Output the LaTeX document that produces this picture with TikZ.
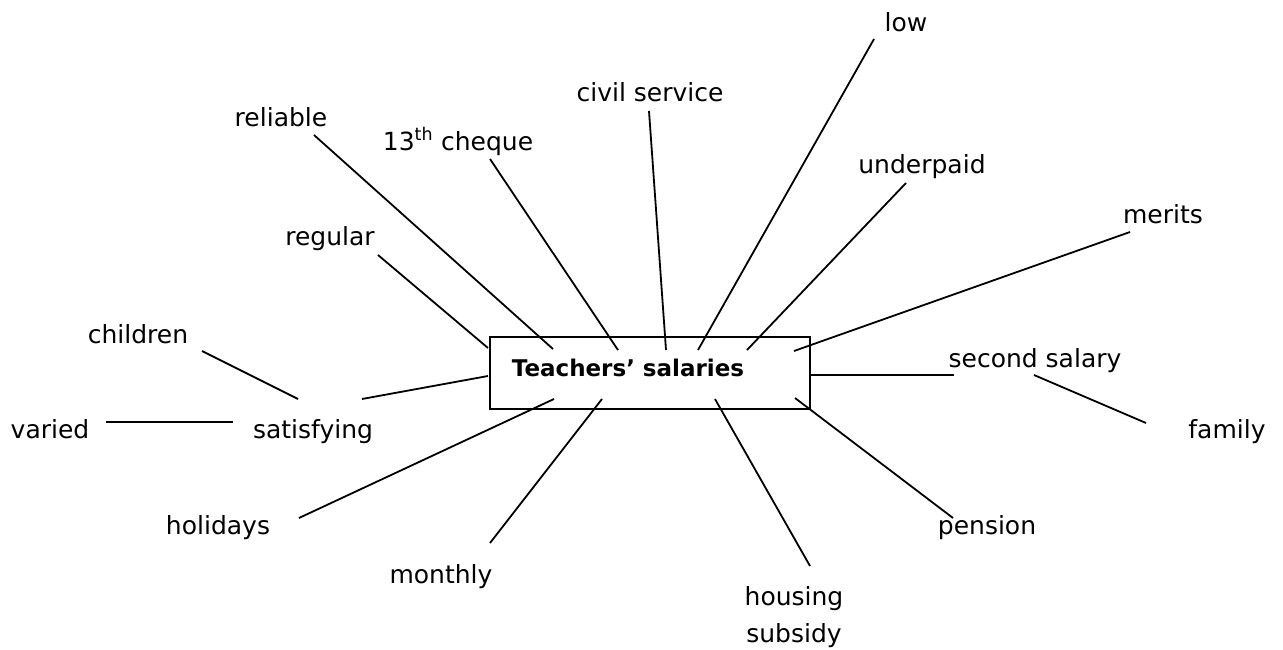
\documentclass[tikz,border=0pt]{standalone}
\usepackage{fontspec}
\setmainfont{DejaVu Sans}
\begin{document}
\begin{tikzpicture}[x=1pt,y=-1pt,
  lbl/.style={anchor=base,inner sep=0pt,font=\fontsize{25}{29}\selectfont},
  conn/.style={line width=1.8pt},
  hub/.style={draw,line width=2.2pt,minimum width=320pt,minimum height=72pt,inner sep=0pt}]
\useasboundingbox (0,0) rectangle (1283,650);
% central box
\node[hub] (box) at (650,373) {};
\node[anchor=base,inner sep=0pt,font=\fontsize{23}{27}\selectfont\bfseries] (title) at (628,376) {Teachers’ salaries};
% labels
\node[lbl] (varied) at (50,438) {varied};
\node[lbl] (satis) at (313,438) {satisfying};
\node[lbl] (child) at (138,343) {children};
\node[lbl] (regular) at (330,245) {regular};
\node[lbl] (reliable) at (281,127) {reliable};
\node[lbl] (cheque) at (458,150) {13\textsuperscript{th} cheque};
\node[lbl] (civil) at (650,102) {civil service};
\node[lbl] (low) at (906,32) {low};
\node[lbl] (under) at (922,174) {underpaid};
\node[lbl] (merits) at (1163,223) {merits};
\node[lbl] (second) at (1035,367) {second salary};
\node[lbl] (family) at (1227,438) {family};
\node[lbl] (holid) at (218,534) {holidays};
\node[lbl] (monthly) at (441,583) {monthly};
\node[lbl] (housing) at (794,605) {housing};
\node[lbl] (subsidy) at (794,642) {subsidy};
\node[lbl] (pension) at (987,534) {pension};
% connector end points
\coordinate (regA) at (378,255);   \coordinate (regB) at (488,348);
\coordinate (relA) at (314,135);   \coordinate (relB) at (553,349);
\coordinate (chqA) at (490,159);   \coordinate (chqB) at (618,350);
\coordinate (civA) at (649,111);   \coordinate (civB) at (666,350);
\coordinate (lowA) at (874,39);    \coordinate (lowB) at (698,350);
\coordinate (undA) at (906,183);   \coordinate (undB) at (747,350);
\coordinate (merA) at (1130,232);  \coordinate (merB) at (794,351);
\coordinate (secA) at (954,375);   \coordinate (secB) at (810,375);
\coordinate (famA) at (1034,375);  \coordinate (famB) at (1146,423);
\coordinate (penA) at (953,518);   \coordinate (penB) at (795,398);
\coordinate (houA) at (810,566);   \coordinate (houB) at (715,399);
\coordinate (monA) at (490,543);   \coordinate (monB) at (602,399);
\coordinate (holA) at (299,518);   \coordinate (holB) at (554,399);
\coordinate (satA) at (362,399);   \coordinate (satB) at (488,376);
\coordinate (chiA) at (202,351);   \coordinate (chiB) at (298,399);
\coordinate (varA) at (106,422);   \coordinate (varB) at (233,422);
% connectors
\draw[conn] (regA) -- (regB);
\draw[conn] (relA) -- (relB);
\draw[conn] (chqA) -- (chqB);
\draw[conn] (civA) -- (civB);
\draw[conn] (lowA) -- (lowB);
\draw[conn] (undA) -- (undB);
\draw[conn] (merA) -- (merB);
\draw[conn] (secA) -- (secB);
\draw[conn] (famA) -- (famB);
\draw[conn] (penA) -- (penB);
\draw[conn] (houA) -- (houB);
\draw[conn] (monA) -- (monB);
\draw[conn] (holA) -- (holB);
\draw[conn] (satA) -- (satB);
\draw[conn] (chiA) -- (chiB);
\draw[conn] (varA) -- (varB);
\end{tikzpicture}
\end{document}
